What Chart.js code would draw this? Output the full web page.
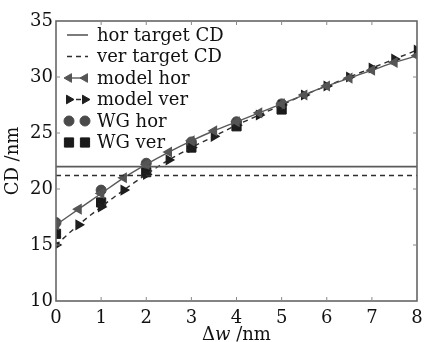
<!DOCTYPE html>
<html>
<head>
<meta charset="utf-8">
<script src="https://cdn.jsdelivr.net/npm/chart.js@4.4.1/dist/chart.umd.min.js"></script>
<style>
  html, body { margin: 0; padding: 0; background: #fff; }
  #wrap { width: 425px; height: 342px; }
</style>
</head>
<body>
<div id="wrap"><canvas id="chart" width="425" height="342"></canvas></div>
<script>
// values
let dw = [0, 0.5, 1, 1.5, 2, 2.5, 3, 3.5, 4, 4.5, 5, 5.5, 6, 6.5, 7, 7.5, 8];
let modelHor = [16.8, 18.2, 19.6, 21.0, 22.2, 23.3, 24.3, 25.2, 26.0, 26.8, 27.6, 28.4, 29.2, 29.9, 30.6, 31.3, 31.9];
let modelVer = [15.0, 16.8, 18.4, 19.9, 21.3, 22.6, 23.7, 24.7, 25.7, 26.6, 27.5, 28.4, 29.2, 30.0, 30.8, 31.6, 32.4];
let wgX = [0, 1, 2, 3, 4, 5];
let wgHor = [17.0, 19.9, 22.3, 24.2, 26.0, 27.6];
let wgVer = [16.0, 18.8, 21.5, 23.7, 25.6, 27.1];
let horTarget = 22.0;
let verTarget = 21.2;
let xRange = [0, 8];
let yRange = [10, 35];
let legendLabels = ['hor target CD', 'ver target CD', 'model hor', 'model ver', 'WG hor', 'WG ver'];

const grayLine = '#5a5a5a';
const darkLine = '#2e2e2e';
const font = '"DejaVu Serif", "Liberation Serif", serif';

function pts(xs, ys) {
    return xs.map(function (x, i) { return { x: x, y: ys[i] }; });
}

let data = {
    datasets: [
        {
            label: legendLabels[0],
            data: [{ x: xRange[0], y: horTarget }, { x: xRange[1], y: horTarget }],
            showLine: true, borderColor: grayLine, borderWidth: 1.6, pointRadius: 0
        },
        {
            label: legendLabels[1],
            data: [{ x: xRange[0], y: verTarget }, { x: xRange[1], y: verTarget }],
            showLine: true, borderColor: darkLine, borderWidth: 1.4, borderDash: [5, 4], pointRadius: 0
        },
        {
            label: legendLabels[2],
            data: pts(dw, modelHor),
            showLine: true, tension: 0.3, borderColor: grayLine, borderWidth: 1.4,
            pointStyle: 'triangle', pointRotation: -90, pointRadius: 5,
            pointBackgroundColor: '#555', pointBorderColor: '#555'
        },
        {
            label: legendLabels[3],
            data: pts(dw, modelVer),
            showLine: true, tension: 0.3, borderColor: darkLine, borderWidth: 1.4, borderDash: [5, 4],
            pointStyle: 'triangle', pointRotation: 90, pointRadius: 5,
            pointBackgroundColor: '#1e1e1e', pointBorderColor: '#1e1e1e'
        },
        {
            label: legendLabels[4],
            data: pts(wgX, wgHor),
            showLine: false, pointStyle: 'circle', pointRadius: 5,
            pointBackgroundColor: '#4a4a4a', pointBorderColor: '#4a4a4a'
        },
        {
            label: legendLabels[5],
            data: pts(wgX, wgVer),
            showLine: false, pointStyle: 'rect', pointRadius: 6.5,
            pointBackgroundColor: '#1a1a1a', pointBorderColor: '#1a1a1a'
        }
    ]
};

// frame, inner ticks, axis titles and legend
const decor = {
    id: 'decor',
    afterDatasetsDraw: function (chart) {
        const ctx = chart.ctx;
        const a = chart.chartArea;
        const xs = chart.scales.x;
        const ys = chart.scales.y;
        ctx.save();

        ctx.strokeStyle = '#666';
        ctx.lineWidth = 1.6;
        ctx.strokeRect(a.left, a.top, a.right - a.left, a.bottom - a.top);

        ctx.lineWidth = 1;
        ctx.strokeStyle = '#888';
        for (let v = xRange[0] + 1; v < xRange[1]; v++) {
            let px = xs.getPixelForValue(v);
            ctx.beginPath();
            ctx.moveTo(px, a.bottom); ctx.lineTo(px, a.bottom - 4);
            ctx.moveTo(px, a.top); ctx.lineTo(px, a.top + 4);
            ctx.stroke();
        }
        for (let v = yRange[0] + 5; v < yRange[1]; v += 5) {
            let py = ys.getPixelForValue(v);
            ctx.beginPath();
            ctx.moveTo(a.left, py); ctx.lineTo(a.left + 4, py);
            ctx.moveTo(a.right, py); ctx.lineTo(a.right - 4, py);
            ctx.stroke();
        }

        // legend
        const rowY = [35, 56.5, 78, 99.5, 121, 142.5];
        const x0 = 67, x1 = 88, tx = 97;
        ctx.font = '18px ' + font;
        ctx.fillStyle = '#111';
        ctx.textBaseline = 'middle';
        ctx.textAlign = 'left';
        data.datasets.forEach(function (ds, i) {
            let y = rowY[i];
            if (ds.showLine) {
                ctx.save();
                ctx.strokeStyle = ds.borderColor;
                ctx.lineWidth = ds.borderWidth;
                ctx.setLineDash(ds.borderDash || []);
                ctx.beginPath();
                ctx.moveTo(x0, y); ctx.lineTo(x1, y);
                ctx.stroke();
                ctx.restore();
            }
            if (ds.pointRadius > 0) {
                ctx.save();
                ctx.fillStyle = ds.pointBackgroundColor;
                ctx.strokeStyle = ds.pointBorderColor;
                ctx.lineWidth = 1;
                [x0 + 2, x1 - 3].forEach(function (px) {
                    Chart.helpers.drawPoint(ctx, {
                        pointStyle: ds.pointStyle,
                        rotation: ds.pointRotation || 0,
                        radius: ds.pointRadius,
                        borderWidth: 1
                    }, px, y);
                });
                ctx.restore();
            }
            ctx.fillText(ds.label, tx, y + 1);
        });

        // axis titles
        ctx.textAlign = 'left';
        ctx.textBaseline = 'middle';
        let parts = [['Δ', ''], ['w', 'italic '], [' /nm', '']];
        let total = 0;
        parts.forEach(function (p) { ctx.font = p[1] + '18px ' + font; total += ctx.measureText(p[0]).width; });
        let cx = (a.left + a.right) / 2 - total / 2;
        parts.forEach(function (p) {
            ctx.font = p[1] + '18px ' + font;
            ctx.fillText(p[0], cx, 335);
            cx += ctx.measureText(p[0]).width;
        });

        ctx.translate(13, (a.top + a.bottom) / 2);
        ctx.rotate(-Math.PI / 2);
        ctx.textAlign = 'center';
        ctx.font = '18px ' + font;
        ctx.fillText('CD /nm', 0, 0);
        ctx.restore();
    }
};

const config = {
    type: 'scatter',
    data: data,
    options: {
        responsive: false,
        animation: false,
        layout: { padding: { top: 21, right: 8, left: 0, bottom: 0 } },
        plugins: {
            legend: { display: false },
            tooltip: { enabled: false }
        },
        scales: {
            x: {
                type: 'linear',
                min: xRange[0], max: xRange[1],
                ticks: {
                    stepSize: 1, color: '#111', padding: 7, maxRotation: 0,
                    font: { family: font, size: 18 }
                },
                grid: { drawOnChartArea: false, drawTicks: false },
                border: { display: false },
                afterFit: function (s) { s.height = 41; s.paddingLeft = 0; s.paddingRight = 0; }
            },
            y: {
                type: 'linear',
                min: yRange[0], max: yRange[1],
                ticks: {
                    stepSize: 5, color: '#111', padding: 3,
                    font: { family: font, size: 18 }
                },
                grid: { drawOnChartArea: false, drawTicks: false },
                border: { display: false },
                afterFit: function (s) { s.width = 56; s.paddingTop = 0; s.paddingBottom = 0; }
            }
        }
    },
    plugins: [decor]
};

let chart = new Chart(document.getElementById('chart'), config);
</script>
</body>
</html>
